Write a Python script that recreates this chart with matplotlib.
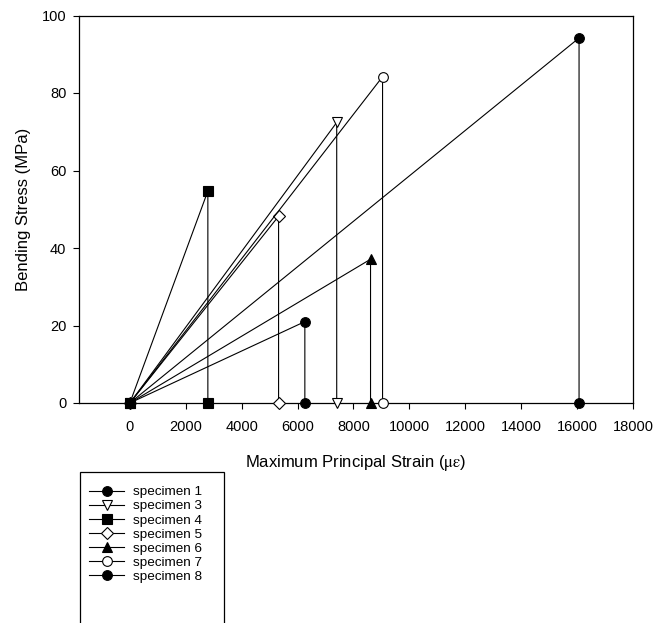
import matplotlib
matplotlib.use("Agg")
import matplotlib.pyplot as plt
from matplotlib.patches import Rectangle

plt.rcParams['font.family'] = ['Liberation Sans', 'DejaVu Sans']
plt.rcParams['mathtext.fontset'] = 'stix'

# data
specimens = ['specimen 1', 'specimen 3', 'specimen 4', 'specimen 5',
             'specimen 6', 'specimen 7', 'specimen 8']
strain = [16070, 7400, 2790, 5320, 8610, 9040, 6260]
stress = [94.2, 72.4, 54.7, 48.2, 37.1, 84.2, 21.0]
markers = ['o', 'v', 's', 'D', '^', 'o', 'o']
filled = [True, False, True, False, True, False, True]
msizes = [7, 7.5, 6.5, 6, 7.5, 7, 7]

xticks = list(range(0, 18001, 2000))
yticks = [0, 20, 40, 60, 80, 100]

fig = plt.figure(figsize=(6.57, 6.23), dpi=100)
ax = fig.add_axes([79 / 657, 1 - 403 / 623, (633 - 79) / 657, (403 - 15.5) / 623])

handles = []
for name, x, y, m, f, ms in zip(specimens, strain, stress, markers, filled, msizes):
    h, = ax.plot([0, x, x], [0, y, 0], color='black', lw=0.8, marker=m,
                 markersize=ms, markerfacecolor='black' if f else 'white',
                 markeredgecolor='black', markeredgewidth=0.8, label=name,
                 clip_on=False, zorder=3)
    handles.append(h)

ax.set_xlim(-1820, 18000)
ax.set_ylim(0, 100)
ax.set_xticks(xticks)
ax.set_yticks(yticks)
ax.tick_params(direction='out', length=4, width=0.8, labelsize=10.5)
ax.tick_params(axis='x', pad=8)
ax.tick_params(axis='y', pad=5)
for s in ax.spines.values():
    s.set_linewidth(0.9)

ax.set_xlabel(r'Maximum Principal Strain ($\mathrm{\mu\varepsilon}$)', fontsize=12, labelpad=14)
ax.set_ylabel('Bending Stress (MPa)', fontsize=12, labelpad=8)

leg = fig.legend(handles=handles, loc='upper left',
                 bbox_to_anchor=(89 / 657, 1 - 486 / 623), frameon=False,
                 fontsize=9.7, handlelength=2.6, handletextpad=0.65,
                 labelspacing=0.12, borderpad=0, borderaxespad=0)

fig.patches.append(Rectangle((80 / 657, -0.05), (224 - 80) / 657, (0.05 + 1 - 472 / 623),
                             transform=fig.transFigure, fill=False,
                             edgecolor='black', lw=0.9))

fig.savefig('out.png', dpi=100)
